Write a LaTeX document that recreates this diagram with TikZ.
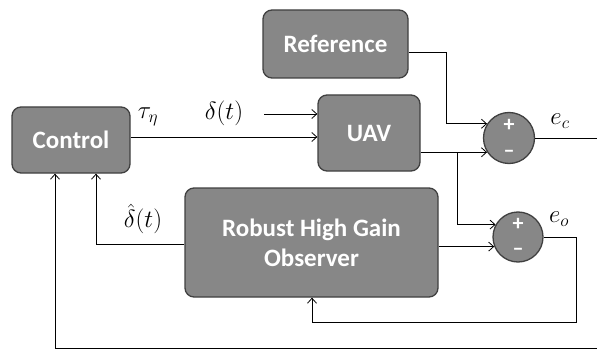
\documentclass[tikz,border=0pt]{standalone}
\usepackage{fontspec}
\setsansfont{Carlito}
\usetikzlibrary{arrows.meta,calc}
\begin{document}
\begin{tikzpicture}[x=1pt,y=-1pt,
  >={Straight Barb[length=5pt,width=9pt]},
  blk/.style={draw=black!75,line width=1.3pt,fill=black!47,rounded corners=9pt,
    text=white,font=\sffamily\bfseries\fontsize{25}{30}\selectfont,align=center,inner sep=0pt},
  sumc/.style={circle,draw=black!75,line width=1.3pt,fill=black!47,inner sep=0pt,minimum size=51pt},
  lbl/.style={font=\fontsize{23}{27}\selectfont,inner sep=0pt},
  sgn/.style={text=white,font=\sffamily\bfseries\fontsize{22}{24}\selectfont,inner sep=0pt},
  wire/.style={line width=0.8pt}]
\useasboundingbox (0,0) rectangle (597,350);
% blocks
\node[blk,minimum width=118pt,minimum height=66pt] (ctrl) at (71,140) {Control};
\node[blk,minimum width=145pt,minimum height=68pt] (ref) at (335.5,44) {Reference};
\node[blk,minimum width=102pt,minimum height=76pt] (uav) at (369,133) {UAV};
\node[blk,minimum width=253pt,minimum height=109pt] (obs) at (311.5,242.5) {Robust High Gain\\Observer};
% summing junctions
\node[sumc] (c1) at (509,138) {};
\node[sumc,minimum size=50pt] (c2) at (518,237) {};
\node[sgn] (p1) at (509,125) {+};
\node[sgn] (m1) at (509,154) {–};
\node[sgn] (p2) at (518,224) {+};
\node[sgn] (m2) at (518,252) {–};
% labels
\node[lbl] (ltau) at (148,117) {$\tau_\eta$};
\node[lbl] (ldel) at (224,113) {$\delta(t)$};
\node[lbl] (lec) at (560,121) {$e_c$};
\node[lbl] (leo) at (559,219) {$e_o$};
\node[lbl] (ldh) at (143,219) {$\hat\delta(t)$};
% coordinates
\coordinate (din) at (264,114);
\coordinate (rcorner) at (446,52);
\coordinate (jn) at (457,153);
\coordinate (eoc) at (576,237);
\coordinate (fb1) at (576,322);
\coordinate (ecend) at (597,138);
\coordinate (bot) at (597,348);
% wires
\draw[wire,->] (ctrl.east |- 0,137) -- (uav.west |- 0,137);
\draw[wire,->] (din) -- (uav.west |- din);
\draw[wire,->] (ref.east |- rcorner) -- (rcorner) -- (rcorner |- c1.147) -- (c1.147);
\draw[wire,->] (uav.east |- c1.213) -- (c1.213);
\draw[wire,->] (jn) -- (jn |- c2.151) -- (c2.151);
\draw[wire,->] (obs.east |- c2.202) -- (c2.202);
\draw[wire] (c1.east) -- (ecend);
\draw[wire,->] (c2.east) -- (eoc) -- (fb1) -- (fb1 -| 312,0) -- (obs.south -| 312,0);
\draw[wire,->] (obs.west |- 0,244) -- (96,244) -- (ctrl.south -| 96,0);
\draw[wire,->] (bot) -- (55,348) -- (ctrl.south -| 55,0);
\end{tikzpicture}
\end{document}
